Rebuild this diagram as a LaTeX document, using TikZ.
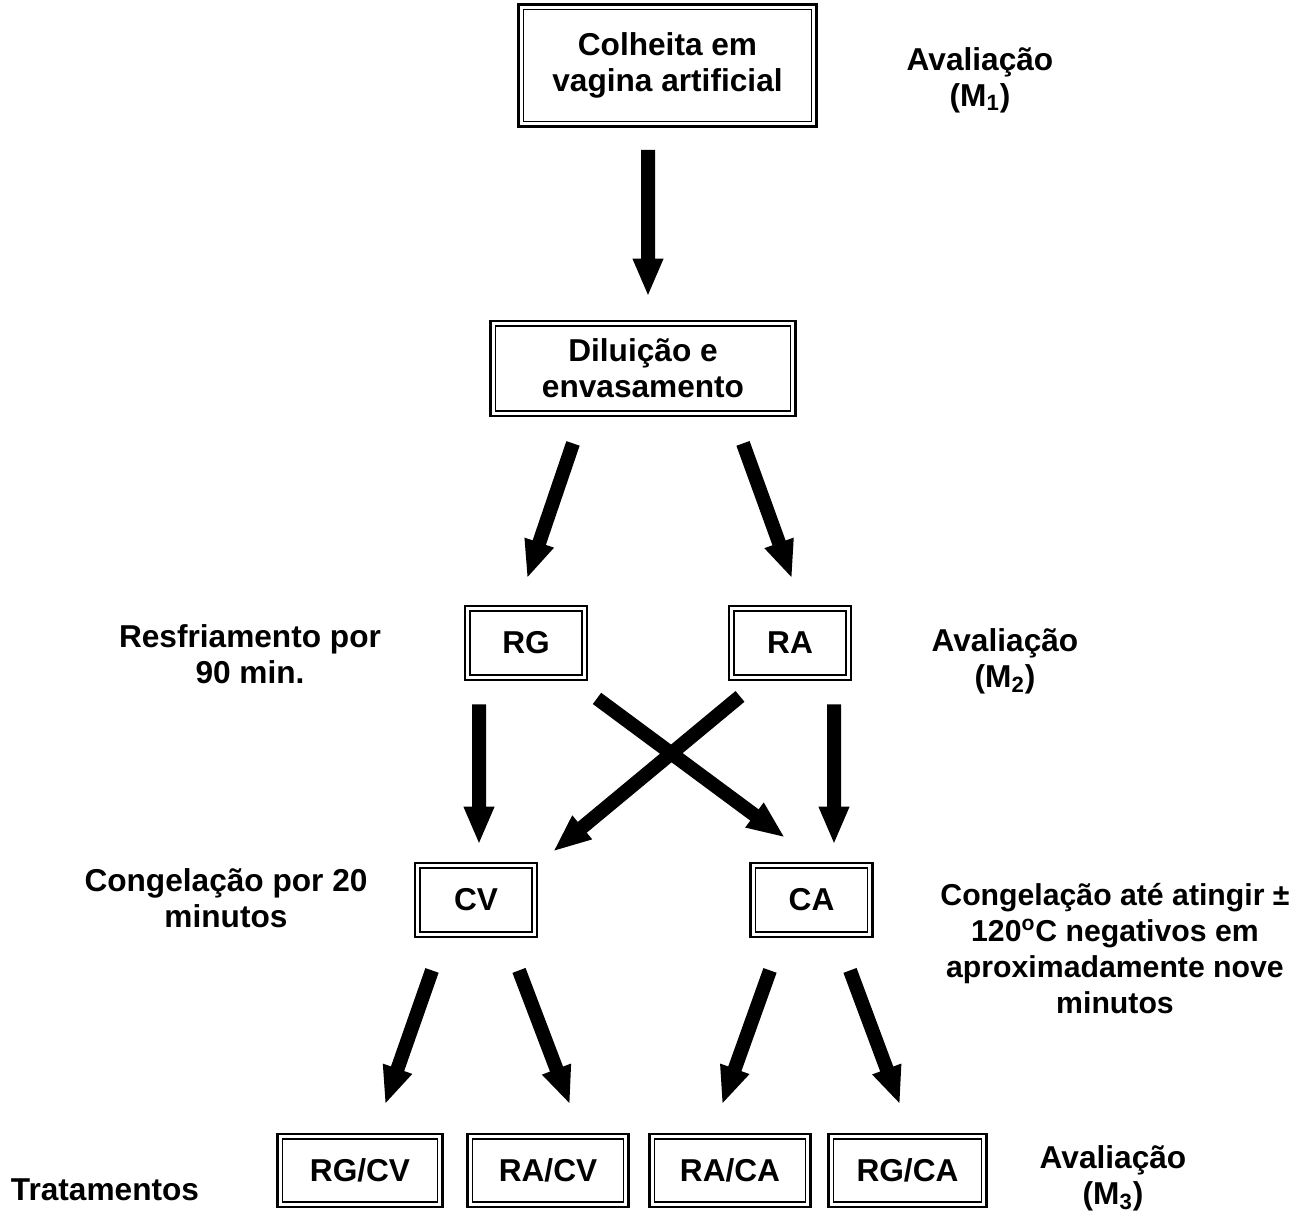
\documentclass[tikz,border=0pt]{standalone}
\usepackage{fontspec}
\setmainfont{Liberation Sans}
\usetikzlibrary{arrows.meta}

\begin{document}
\begin{tikzpicture}[>={Triangle[length=0.76cm, width=0.56cm]},
    every node/.style={font=\fontsize{18}{20.5}\selectfont\bfseries, align=center},
    box/.style={draw, line width=1.6pt, inner sep=0pt, minimum width=2.44cm, minimum height=1.48cm,
        path picture={\draw[line width=0.9pt] ([shift={(0.1,0.1)}]path picture bounding box.south west) rectangle ([shift={(-0.1,-0.1)}]path picture bounding box.north east);}},
    bigarrow/.style={->, line width=0.28cm}]
    \useasboundingbox (0,0) rectangle (26,-24.36);

    % boxes
    \node[box, minimum width=5.96cm, minimum height=2.44cm] (col) at (13.35,-1.31) {Colheita em\\vagina artificial};
    \node[box, minimum width=6.1cm, minimum height=1.9cm] (dil) at (12.86,-7.37) {Diluição e\\envasamento};
    \node[box] (rg) at (10.52,-12.86) {RG};
    \node[box] (ra) at (15.8,-12.86) {RA};
    \node[box] (cv) at (9.52,-18.0) {CV};
    \node[box] (ca) at (16.23,-18.0) {CA};
    \node[box, minimum width=3.3cm, minimum height=1.46cm] (rgcv) at (7.2,-23.41) {RG/CV};
    \node[box, minimum width=3.22cm, minimum height=1.46cm] (racv) at (10.96,-23.41) {RA/CV};
    \node[box, minimum width=3.22cm, minimum height=1.46cm] (raca) at (14.6,-23.41) {RA/CA};
    \node[box, minimum width=3.16cm, minimum height=1.46cm] (rgca) at (18.15,-23.41) {RG/CA};

    % side labels
    \node (aval1) at (19.6,-1.6) {Avaliação\\(M\textsubscript{1})};
    \node (aval2) at (20.1,-13.22) {Avaliação\\(M\textsubscript{2})};
    \node (aval3) at (22.26,-23.56) {Avaliação\\(M\textsubscript{3})};
    \node (resf) at (5.0,-13.08) {Resfriamento por\\90 min.};
    \node (congv) at (4.52,-17.96) {Congelação por 20\\minutos};
    \node[font=\fontsize{17.2}{20.5}\selectfont\bfseries] (conga) at (22.3,-18.98) {Congelação até atingir ±\\120\textsuperscript{o}C negativos em\\aproximadamente nove\\minutos};
    \node (trat) at (2.1,-23.8) {Tratamentos};

    % arrows
    \draw[bigarrow] ([shift={(-0.39,-0.44)}]col.south) -- ([shift={(0.1,0.46)}]dil.north);
    \draw[bigarrow] ([shift={(-1.4,-0.52)}]dil.south) -- ([shift={(0.02,0.52)}]rg.north);
    \draw[bigarrow] ([shift={(2.0,-0.52)}]dil.south) -- ([shift={(0.04,0.52)}]ra.north);
    \draw[bigarrow] ([shift={(-0.94,-0.46)}]rg.south) -- ([shift={(0.06,0.34)}]cv.north);
    \draw[bigarrow] ([shift={(0.88,-0.46)}]ra.south) -- ([shift={(0.45,0.34)}]ca.north);
    \draw[bigarrow] ([shift={(1.42,-0.34)}]rg.south) -- ([shift={(-0.53,0.48)}]ca.north);
    \draw[bigarrow] ([shift={(-1.0,-0.3)}]ra.south) -- ([shift={(1.54,0.2)}]cv.north);
    \draw[bigarrow] ([shift={(-0.88,-0.64)}]cv.south) -- ([shift={(0.5,0.56)}]rgcv.north);
    \draw[bigarrow] ([shift={(0.86,-0.64)}]cv.south) -- ([shift={(0.44,0.56)}]racv.north);
    \draw[bigarrow] ([shift={(-0.83,-0.64)}]ca.south) -- ([shift={(-0.16,0.56)}]raca.north);
    \draw[bigarrow] ([shift={(0.77,-0.64)}]ca.south) -- ([shift={(-0.15,0.56)}]rgca.north);
\end{tikzpicture}
\end{document}
